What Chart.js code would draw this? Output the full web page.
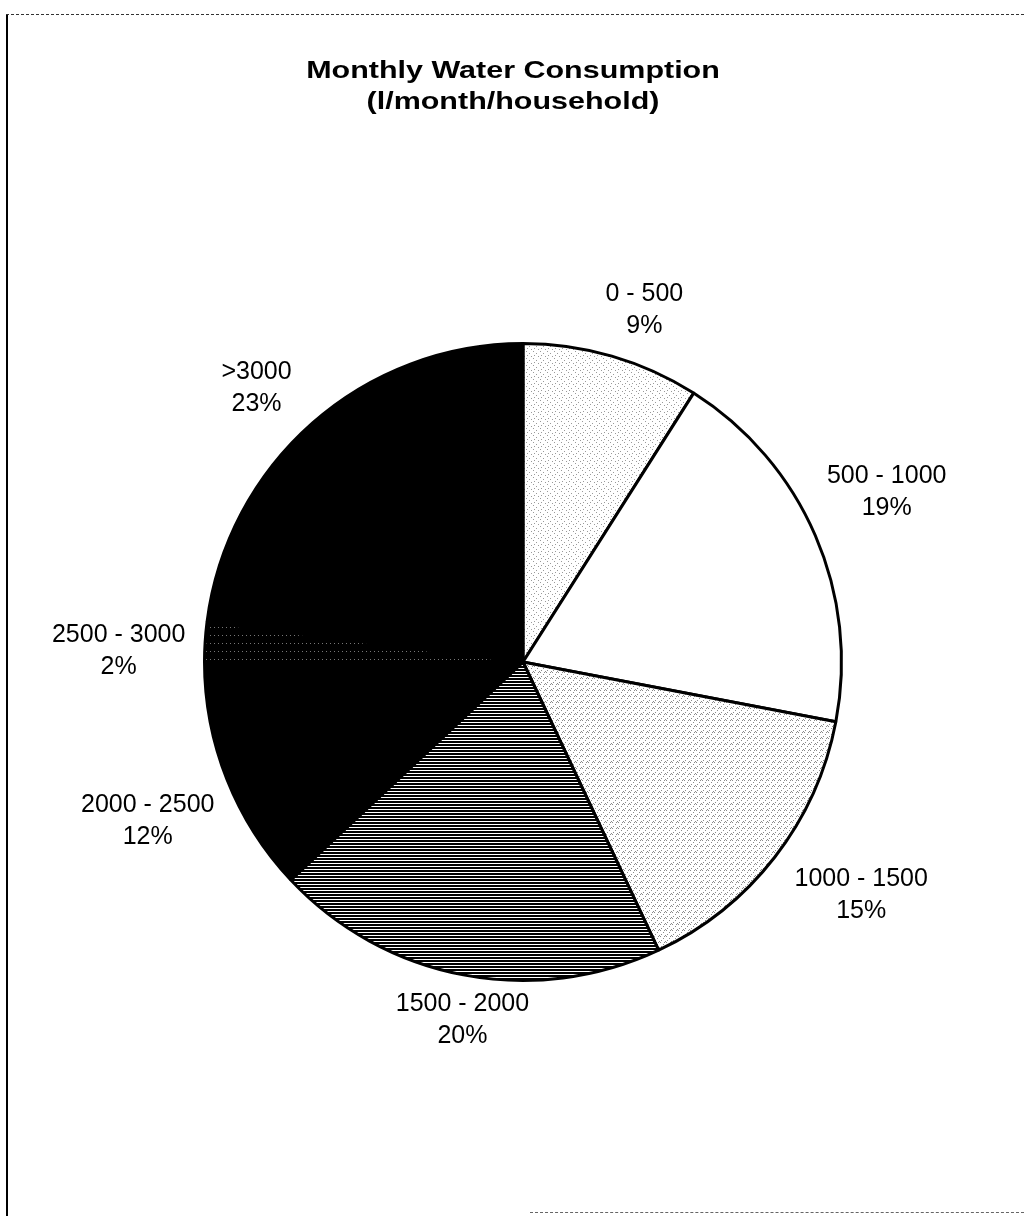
<!DOCTYPE html>
<html>
<head>
<meta charset="utf-8">
<script src="https://cdn.jsdelivr.net/npm/chart.js@4.4.1/dist/chart.umd.min.js"></script>
<style>
  html, body { margin: 0; padding: 0; background: #fff; }
  #wrap { position: relative; width: 1024px; height: 1216px; overflow: hidden; }
  #c { position: absolute; left: 0; top: 0; }
  .frame-left { position: absolute; left: 6px; top: 14px; width: 2px; height: 1202px; background: #000; }
  .frame-top { position: absolute; left: 6px; top: 14px; width: 1018px; height: 0; border-top: 1px dashed #333; }
  .frame-bottom { position: absolute; left: 530px; top: 1212px; width: 494px; height: 0; border-top: 1px dashed #666; }
</style>
</head>
<body>
<div id="wrap">
  <canvas id="c" width="1024" height="1216"></canvas>
  <div class="frame-left"></div>
  <div class="frame-top"></div>
  <div class="frame-bottom"></div>
</div>
<script>
// ---- data ----
const categories = ["0 - 500", "500 - 1000", "1000 - 1500", "1500 - 2000", "2000 - 2500", "2500 - 3000", ">3000"];
const shares = [9, 19, 15, 20, 12, 2, 23];
const titleLines = ["Monthly Water Consumption", "(l/month/household)"];

// ---- fill patterns (style only) ----
function makePattern(size, bg, fg, dots) {
  const c = document.createElement('canvas');
  c.width = size; c.height = size;
  const g = c.getContext('2d');
  g.fillStyle = bg; g.fillRect(0, 0, size, size);
  g.fillStyle = fg;
  dots.forEach(d => g.fillRect(d[0], d[1], 1, 1));
  return g.createPattern(c, 'repeat');
}
function makeStripes() {
  const c = document.createElement('canvas');
  c.width = 8; c.height = 3;
  const g = c.getContext('2d');
  g.fillStyle = '#fff'; g.fillRect(0, 0, 8, 3);
  g.fillStyle = '#000'; g.fillRect(0, 0, 8, 2);
  return g.createPattern(c, 'repeat');
}
const ctx = document.getElementById('c').getContext('2d');
const stippleLight = makePattern(7, '#ffffff', '#9a9a9a', [[1,1],[4,3],[2,5],[6,6]]);
const stippleMed = makePattern(6, '#ffffff', '#8a8a8a', [[0,0],[3,2],[1,4],[5,5],[4,0]]);
const darkDots = makePattern(8, '#000000', '#777777', [[2,3],[6,3]]);
const fills = [stippleLight, '#ffffff', stippleMed, makeStripes(), '#000000', darkDots, '#000000'];
// label placement styles: radial distance (x radius) and angular nudge (degrees)
const labelDistance = [1.17, 1.26, 1.29, 1.14, 1.28, 1.27, 1.20];
const labelNudge = [2.8, -1.6, -3.2, -1.2, -1.4, -2.1, -2.8];

const labelPlugin = {
  id: 'outerLabels',
  afterDatasetsDraw(chart) {
    const meta = chart.getDatasetMeta(0);
    const data = chart.data.datasets[0].data;
    const total = data.reduce((a, b) => a + b, 0);
    const g = chart.ctx;
    g.save();
    g.font = '25px "Liberation Sans", Arial, sans-serif';
    g.fillStyle = '#000';
    g.textAlign = 'center';
    g.textBaseline = 'middle';
    meta.data.forEach((arc, i) => {
      const p = arc.getProps(['x', 'y', 'startAngle', 'endAngle', 'outerRadius'], true);
      const mid = (p.startAngle + p.endAngle) / 2 + labelNudge[i] * Math.PI / 180;
      const r = p.outerRadius * labelDistance[i];
      const cx = p.x + Math.cos(mid) * r;
      const cy = p.y + Math.sin(mid) * r;
      g.fillText(chart.data.labels[i], cx, cy - 16);
      g.fillText(Math.round(data[i] / total * 100) + '%', cx, cy + 16);
    });
    g.restore();
  }
};

const titlePlugin = {
  id: 'stretchedTitle',
  afterDraw(chart) {
    const g = chart.ctx;
    g.save();
    g.font = 'bold 24px "Liberation Sans", Arial, sans-serif';
    g.fillStyle = '#000';
    g.textAlign = 'center';
    g.textBaseline = 'middle';
    g.translate(513, 0);
    g.scale(1.27, 1);
    titleLines.forEach((t, i) => g.fillText(t, 0, 71 + i * 31));
    g.restore();
  }
};

new Chart(ctx, {
  type: 'pie',
  data: {
    labels: categories,
    datasets: [{
      data: shares,
      backgroundColor: fills,
      borderColor: '#000',
      borderWidth: 3
    }]
  },
  options: {
    responsive: false,
    animation: false,
    layout: { padding: { left: 203, right: 181, top: 342, bottom: 234 } },
    plugins: {
      legend: { display: false },
      tooltip: { enabled: false },
      title: { display: false }
    }
  },
  plugins: [labelPlugin, titlePlugin]
});
</script>
</body>
</html>
